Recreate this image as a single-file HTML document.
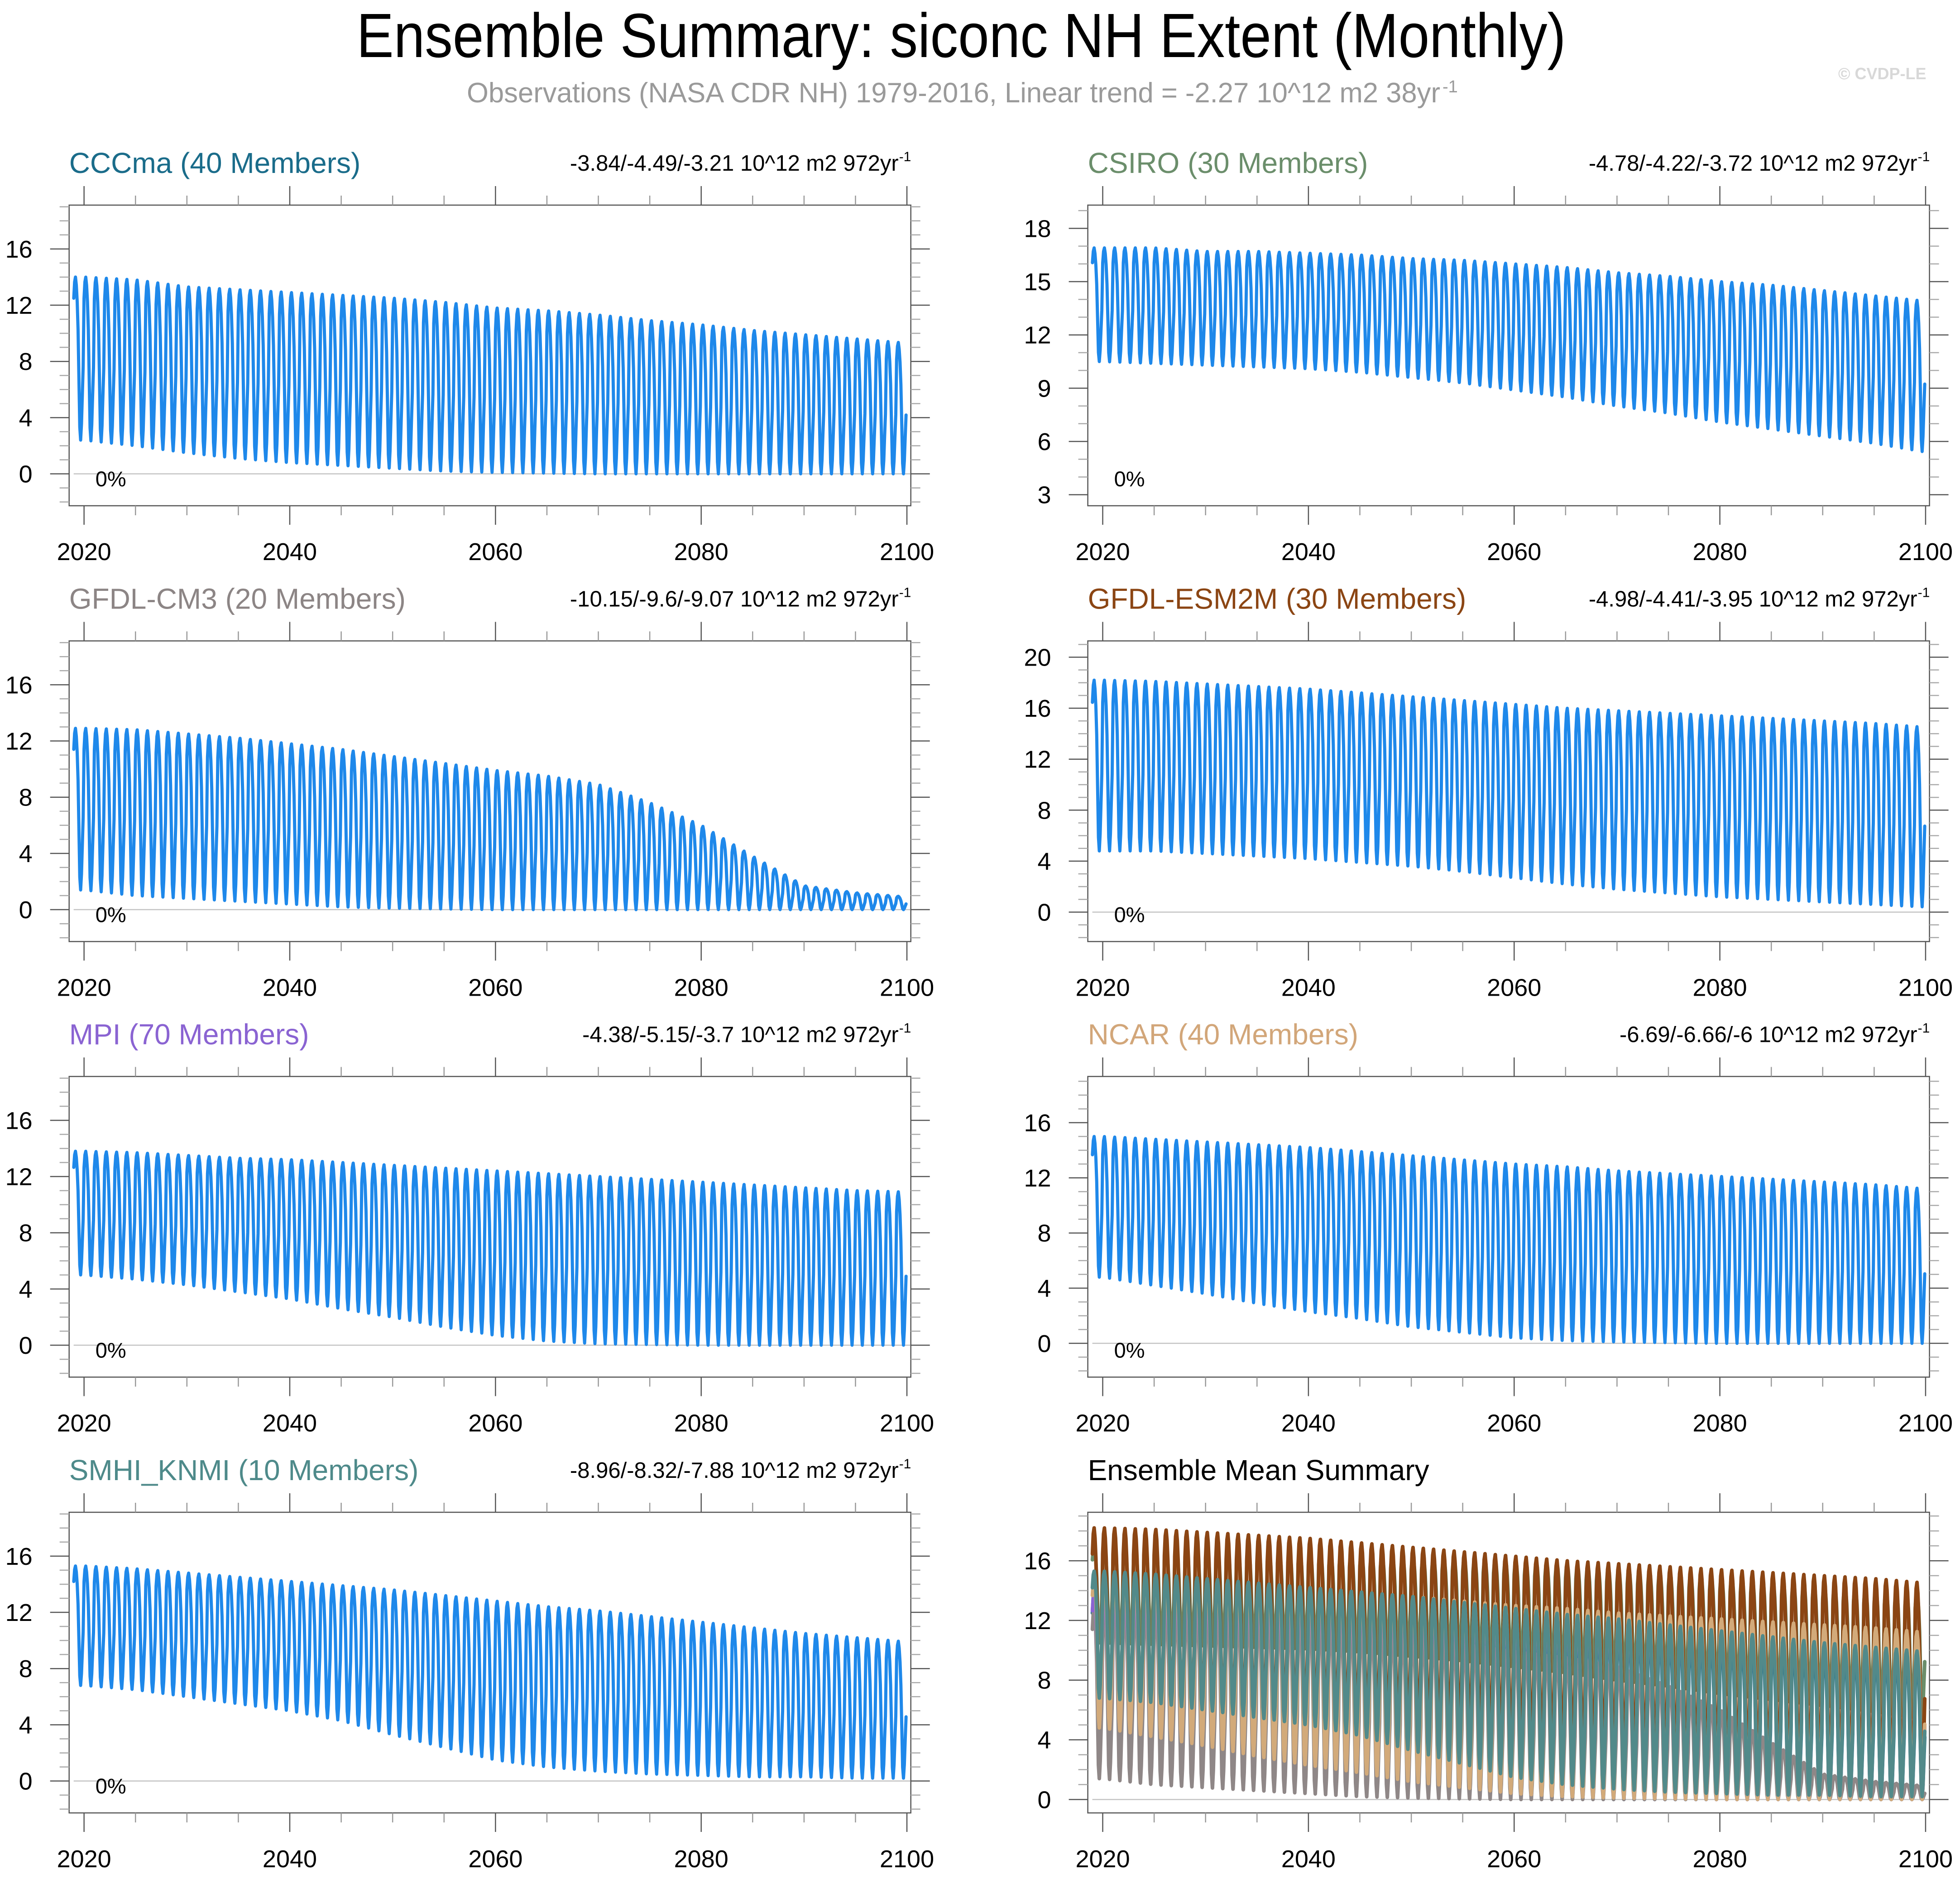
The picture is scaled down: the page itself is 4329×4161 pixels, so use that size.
<!DOCTYPE html>
<html>
<head>
<meta charset="utf-8">
<style>
html,body{margin:0;padding:0;background:#fff;}
body{width:4329px;height:4161px;overflow:hidden;}
svg{display:block;font-family:"Liberation Sans",Arial,sans-serif;}
</style>
</head>
<body>
<svg id="chart" xmlns="http://www.w3.org/2000/svg" width="4329" height="4161" viewBox="0 0 4329 4161">
  <rect x="0" y="0" width="4329" height="4161" fill="#fff"/>
  <text x="2123" y="126" font-size="138" text-anchor="middle" textLength="2671" lengthAdjust="spacingAndGlyphs" fill="#000">Ensemble Summary: siconc NH Extent (Monthly)</text>
  <text x="1031" y="226" font-size="62" textLength="2150" lengthAdjust="spacingAndGlyphs" fill="#9a9a9a">Observations (NASA CDR NH) 1979-2016, Linear trend = -2.27 10^12 m2 38yr</text>
  <text x="3186" y="204" font-size="38" fill="#9a9a9a">-1</text>
  <text x="4060" y="175" font-size="36" font-weight="bold" fill="#d8d8d8">© CVDP-LE</text>
  <g id="panels"></g>
</svg>
<script>
// ---- data (annual March max / September min, 10^12 m2) at 5-year knots ----
const knotYears = [2020,2025,2030,2035,2040,2045,2050,2055,2060,2065,2070,2075,2080,2085,2090,2095,2100];
const cccmaMax = [14.0,13.8,13.3,13.1,12.9,12.7,12.5,12.2,11.8,11.6,11.3,10.9,10.6,10.2,9.9,9.6,9.3];
const cccmaMin = [2.4,2.0,1.5,1.1,0.8,0.6,0.4,0.2,0.1,0.05,0.0,0.0,0.0,0.0,0.0,0.0,0.0];
const csiroMax = [16.9,16.9,16.7,16.7,16.6,16.5,16.3,16.2,16.0,15.8,15.5,15.3,15.0,14.8,14.5,14.2,13.9];
const csiroMin = [10.5,10.4,10.3,10.2,10.1,9.9,9.6,9.3,8.9,8.5,8.0,7.6,7.1,6.7,6.3,5.9,5.4];
const cm3Max = [12.9,12.8,12.5,12.2,11.8,11.4,10.9,10.4,9.9,9.5,8.9,7.6,6.0,3.8,1.7,1.2,0.9];
const cm3Min = [1.4,1.0,0.8,0.6,0.4,0.2,0.1,0.05,0.0,0.0,0.0,0.0,0.0,0.0,0.0,0.0,0.0];
const esm2mMax = [18.2,18.1,17.9,17.7,17.5,17.2,16.9,16.6,16.3,16.0,15.8,15.6,15.4,15.2,15.0,14.8,14.5];
const esm2mMin = [4.8,4.8,4.6,4.4,4.2,3.9,3.6,3.2,2.7,2.2,1.8,1.5,1.2,1.0,0.8,0.6,0.4];
const mpiMax = [13.8,13.7,13.5,13.3,13.2,13.0,12.8,12.6,12.4,12.2,12.0,11.8,11.6,11.4,11.2,11.0,10.9];
const mpiMin = [5.0,4.7,4.3,3.8,3.3,2.6,2.0,1.3,0.7,0.3,0.1,0.05,0.0,0.0,0.0,0.0,0.0];
const ncarMax = [15.0,14.8,14.6,14.4,14.2,13.9,13.6,13.3,13.0,12.8,12.5,12.3,12.1,11.9,11.7,11.5,11.2];
const ncarMin = [4.8,4.2,3.6,2.9,2.3,1.8,1.2,0.8,0.4,0.2,0.1,0.05,0.0,0.0,0.0,0.0,0.0];
const smhiMax = [15.3,15.1,14.8,14.5,14.2,13.9,13.6,13.2,12.8,12.4,12.1,11.7,11.3,10.9,10.5,10.2,9.9];
const smhiMin = [6.8,6.5,6.0,5.5,5.0,4.3,3.3,2.4,1.5,1.0,0.7,0.5,0.4,0.3,0.3,0.2,0.2];
const seasonFrac = [0.87,0.97,1.0,0.95,0.85,0.68,0.38,0.08,0.0,0.1,0.28,0.45];
const xTickLabels = ["2020","2040","2060","2080","2100"];
const trendLabels = ["-3.84/-4.49/-3.21","-4.78/-4.22/-3.72","-10.15/-9.6/-9.07","-4.98/-4.41/-3.95","-4.38/-5.15/-3.7","-6.69/-6.66/-6","-8.96/-8.32/-7.88"];

// ---- layout ----
const NS = "http://www.w3.org/2000/svg";
const root = document.getElementById("panels");
const colL = [152.7, 2402.6], PW = 1859;
const rowT = [453, 1415.5, 2377.5, 3340], PH = 664;
const X0 = 2018.55, X1 = 2100.38;
const startYear = 2019, endYear = 2099;

const models = [
  {key:"cccma", title:"CCCma (40 Members)", color:"#1a6c8a", mean:"#1f6f93", mx:cccmaMax, mn:cccmaMin, trend:0, col:0,row:0, y0:-2.27,y1:19.12, step:4, tmax:16},
  {key:"csiro", title:"CSIRO (30 Members)", color:"#6b8e6b", mean:"#6b8e6b", mx:csiroMax, mn:csiroMin, trend:1, col:1,row:0, y0:2.38,y1:19.31, step:3, tmax:18},
  {key:"gfdl-cm3", title:"GFDL-CM3 (20 Members)", color:"#8c8585", mean:"#8f8787", mx:cm3Max, mn:cm3Min, trend:2, col:0,row:1, y0:-2.27,y1:19.12, step:4, tmax:16},
  {key:"gfdl-esm2m", title:"GFDL-ESM2M (30 Members)", color:"#8b4513", mean:"#8b4513", mx:esm2mMax, mn:esm2mMin, trend:3, col:1,row:1, y0:-2.31,y1:21.28, step:4, tmax:20},
  {key:"mpi", title:"MPI (70 Members)", color:"#8a63d2", mean:"#8a63d2", mx:mpiMax, mn:mpiMin, trend:4, col:0,row:2, y0:-2.27,y1:19.12, step:4, tmax:16},
  {key:"ncar", title:"NCAR (40 Members)", color:"#d2a679", mean:"#d2aa7a", mx:ncarMax, mn:ncarMin, trend:5, col:1,row:2, y0:-2.45,y1:19.35, step:4, tmax:16},
  {key:"smhi-knmi", title:"SMHI_KNMI (10 Members)", color:"#4e8a8a", mean:"#528a8a", mx:smhiMax, mn:smhiMin, trend:6, col:0,row:3, y0:-2.27,y1:19.12, step:4, tmax:16}
];

function el(tag, attrs, parent){
  const e = document.createElementNS(NS, tag);
  for (const k in attrs) e.setAttribute(k, attrs[k]);
  parent.appendChild(e);
  return e;
}
function interp(arr, yr){
  if (yr <= knotYears[0]) return arr[0];
  if (yr >= knotYears[knotYears.length-1]) return arr[arr.length-1];
  for (let i=0;i<knotYears.length-1;i++){
    if (yr <= knotYears[i+1]){
      const f = (yr-knotYears[i])/(knotYears[i+1]-knotYears[i]);
      return arr[i] + f*(arr[i+1]-arr[i]);
    }
  }
}
function monthly(mx, mn){
  const pts = [];
  for (let y=startYear; y<=endYear; y++){
    for (let m=0; m<12; m++){
      const t = y + m/12;
      const hi = interp(mx, t), lo = interp(mn, t);
      pts.push([t, lo + seasonFrac[m]*(hi-lo)]);
    }
  }
  return pts;
}

function drawPanel(p, name, opts){
  const L = colL[p.col], T = rowT[p.row], R = L+PW, B = T+PH;
  const g = el("g", {}, root);
  
  
  const sx = v => L + (v - X0)/(X1 - X0)*PW;
  const sy = v => B - (v - p.y0)/(p.y1 - p.y0)*PH;

  if (p.y0 < 0){
    const z = el("line", {x1:L+10, x2:R, y1:sy(0), y2:sy(0), stroke:"#c4c4c4", "stroke-width":2.5}, g);
    
    
  }
  const series = opts.series;
  series.forEach(s => {
    const pts = monthly(s.mx, s.mn);
    let d = "";
    pts.forEach((q,i) => { d += (i?"L":"M") + sx(q[0]).toFixed(1) + " " + sy(q[1]).toFixed(1); });
    const path = el("path", {d:d, fill:"none", stroke:s.stroke, "stroke-width":s.width, "stroke-linejoin":"round", "stroke-linecap":"round"}, g);
    
    
  });
  const fr = el("rect", {x:L, y:T, width:PW, height:PH, fill:"none", stroke:"#555", "stroke-width":2.5}, g);
  
  

  for (let yr=2020; yr<=2100; yr+=5){
    const major = yr % 20 === 0;
    const len = major ? 42 : 21;
    const x = sx(yr);
    const c = major ? "#555" : "#999";
    const t1 = el("line", {x1:x, x2:x, y1:T, y2:T-len, stroke:c, "stroke-width":2.5}, g);
    
    
    const t2 = el("line", {x1:x, x2:x, y1:B, y2:B+len, stroke:c, "stroke-width":2.5}, g);
    
    
  }
  xTickLabels.forEach(lab => {
    const tx = el("text", {x:sx(+lab), y:B+120, "font-size":54, "text-anchor":"middle", fill:"#000"}, g);
    tx.textContent = lab;
    
    
  });
  for (let v=Math.ceil(p.y0); v<=p.y1; v++){
    const major = (v % p.step === 0) && v >= 0 && v <= p.tmax;
    const len = major ? 42 : 21;
    const y = sy(v);
    const c = major ? "#555" : "#aaa";
    const a = el("line", {x1:L, x2:L-len, y1:y, y2:y, stroke:c, "stroke-width":2.5}, g);
    
    
    const b = el("line", {x1:R, x2:R+len, y1:y, y2:y, stroke:c, "stroke-width":2.5}, g);
    
    
    if (major){
      const lt = el("text", {x:L-81, y:y+19, "font-size":54, "text-anchor":"end", fill:"#000"}, g);
      lt.textContent = String(v);
      
      
    }
  }
  const tt = el("text", {x:L, y:T-71, "font-size":64, fill:opts.titleColor}, g);
  tt.textContent = opts.title;
  
  
  if (opts.trend !== undefined){
    const tr = el("text", {x:R-27, y:T-76, "font-size":49, "text-anchor":"end", fill:"#000"}, g);
    tr.textContent = trendLabels[opts.trend] + " 10^12 m2 972yr";
    
    
    const sup = el("text", {x:R-26, y:T-97, "font-size":30, fill:"#000"}, g);
    sup.textContent = "-1";
    
    
    const pc = el("text", {x:L+58, y:T+621, "font-size":47, fill:"#000"}, g);
    pc.textContent = "0%";
    
    
  }
}

models.forEach(m => {
  drawPanel(m, m.key, {title:m.title, titleColor:m.color, trend:m.trend,
    series:[{name:m.key, mx:m.mx, mn:m.mn, stroke:"#1e88ea", width:7}]});
});
drawPanel({col:1,row:3,y0:-0.9,y1:19.25,step:4,tmax:16}, "ensemble-mean", {
  title:"Ensemble Mean Summary", titleColor:"#000",
  series: models.map(m => ({name:m.key + '-mean', mx:m.mx, mn:m.mn, stroke:m.mean, width:8}))
});
</script>
</body>
</html>
